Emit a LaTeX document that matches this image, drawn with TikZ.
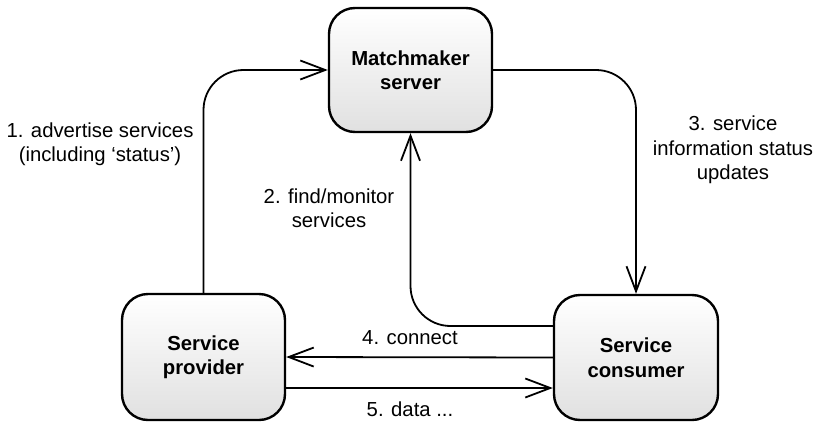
\documentclass[tikz,border=0pt]{standalone}
\usepackage{fontspec}
\setmainfont{Liberation Sans}
\usetikzlibrary{arrows.meta}
\begin{document}
\begin{tikzpicture}[x=1pt,y=-1pt,
  box/.style={draw=black, line width=2.4pt, rounded corners=26pt,
    top color=white, bottom color=black!12, align=center,
    font=\fontsize{20.3}{24.5}\selectfont\bfseries, inner sep=0pt},
  conn/.style={draw=black, line width=1.8pt, rounded corners=40pt,
    -{Straight Barb[length=25pt,width=19pt,line width=1.8pt]}},
  lbl/.style={align=center, font=\fontsize{20.3}{24.5}\selectfont, inner sep=0pt}]
\useasboundingbox (0,0) rectangle (818,423);

% the three participants
\node[box, minimum width=163pt, minimum height=124pt] (mm) at (410.5,70) {Matchmaker\\server};
\node[box, minimum width=163pt, minimum height=126pt] (prov) at (203.5,357) {Service\\provider};
\node[box, minimum width=164pt, minimum height=125pt] (cons) at (636,357.5) {Service\\consumer};

% helper points for the connectors
\coordinate (c2) at (cons.west |- 0,326);
\coordinate (p5) at (prov.east |- 0,388);

% message flows
\draw[conn] (prov.north) |- (mm.west);
\draw[conn] (c2) -| (mm.south);
\draw[conn] (mm.east) -| (cons.north);
\draw[conn, rounded corners=0pt] (cons.west) -- (prov.east);
\draw[conn, rounded corners=0pt] (p5) -- (cons.west |- p5);

% flow labels
\node[lbl] (l1) at (100,144) {1. advertise services\\(including ‘status’)};
\node[lbl] (l2) at (329,208) {2. find/monitor\\services};
\node[lbl] (l3) at (733,150) {3. service\\information status\\updates};
\node[lbl] (l4) at (410,338) {4. connect};
\node[lbl] (l5) at (410,409) {5. data ...};
\end{tikzpicture}
\end{document}
